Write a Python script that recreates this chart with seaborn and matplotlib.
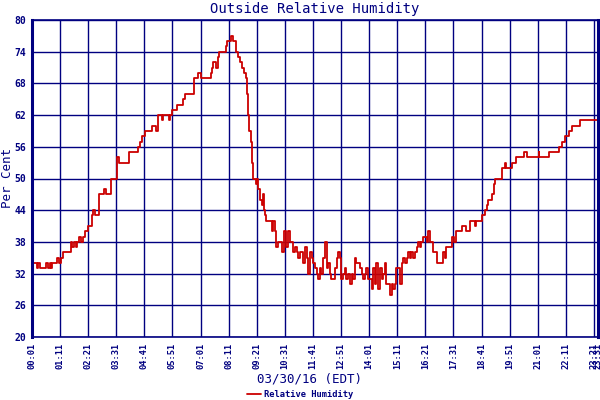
import numpy as np
import pandas as pd
import matplotlib
matplotlib.use("Agg")
import matplotlib.pyplot as plt
import seaborn as sns

# minutes after midnight, 03/30/16
minutes = [
    1, 3, 13, 17, 21, 33, 36, 42, 46, 48, 50, 61, 64, 69, 72, 79, 94, 97, 101, 106,
    110, 114, 119, 124, 127, 133, 141, 145, 150, 154, 158, 166, 169, 179, 180, 185,
    195, 199, 209, 212, 216, 218, 237, 243, 262, 266, 270, 274, 282, 297, 299, 307,
    310, 314, 324, 328, 341, 343, 346, 351, 361, 376, 378, 382, 403, 405, 411, 415,
    419, 423, 442, 446, 449, 452, 459, 465, 467, 481, 484, 488, 494, 496, 498, 502,
    506, 510, 514, 519, 523, 527, 529, 533, 536, 538, 541, 546, 548, 550, 552, 556,
    559, 562, 565, 569, 573, 577, 579, 581, 585, 594, 598, 602, 606, 610, 614, 619,
    625, 628, 633, 639, 643, 648, 652, 656, 660, 664, 668, 673, 677, 681, 685, 689,
    693, 698, 702, 706, 710, 714, 718, 722, 726, 731, 735, 739, 743, 747, 751, 756,
    760, 764, 768, 772, 776, 780, 784, 789, 793, 797, 801, 805, 809, 813, 818, 822,
    826, 830, 834, 838, 842, 847, 851, 855, 859, 863, 867, 872, 876, 880, 884, 888,
    892, 897, 901, 905, 909, 913, 917, 922, 926, 930, 934, 938, 942, 946, 950, 955,
    959, 963, 967, 971, 975, 980, 984, 988, 992, 996, 1000, 1004, 1009, 1013, 1021,
    1025, 1029, 1032, 1046, 1048, 1052, 1058, 1065, 1071, 1079, 1083, 1092, 1104,
    1107, 1117, 1121, 1130, 1134, 1138, 1142, 1146, 1152, 1155, 1160, 1167, 1173,
    1179, 1183, 1191, 1196, 1204, 1206, 1224, 1227, 1233, 1235, 1261, 1263, 1265,
    1286, 1290, 1311, 1315, 1322, 1330, 1336, 1340, 1347, 1357, 1365, 1403, 1411,
]
humidity = [
    34, 34, 33, 34, 33, 33, 34, 33, 34, 33, 34, 34, 35, 34, 35, 36, 36, 38, 37, 38,
    37, 38, 39, 38, 39, 40, 41, 41, 43, 44, 43, 43, 47, 47, 48, 47,
    47, 50, 50, 54, 54, 53, 53, 55, 55, 56, 57, 58, 59, 59, 60, 60,
    59, 62, 61, 62, 62, 61, 62, 63, 64, 64, 65, 66, 66, 69, 69, 70,
    70, 69, 69, 70, 71, 72, 71, 73, 74, 74, 75, 76, 76, 77, 77, 76,
    76, 74, 73, 72, 71, 71, 70, 69, 66, 62, 59, 57, 54, 53, 50, 50,
    49, 50, 48, 46, 45, 47, 44, 43, 42, 42, 40, 42, 40, 37, 38, 38,
    36, 40, 37, 40, 38, 38, 36, 37, 36, 35, 36, 36, 34, 37, 35, 32,
    36, 35, 34, 33, 32, 31, 33, 32, 35, 38, 33, 34, 32, 31, 31, 33,
    35, 36, 35, 31, 32, 33, 31, 32, 30, 32, 31, 35, 34, 34, 33, 32,
    31, 32, 33, 31, 31, 29, 33, 30, 34, 29, 33, 31, 32, 34, 30, 30,
    28, 30, 29, 30, 33, 33, 30, 34, 35, 34, 35, 36, 35, 36, 35, 36,
    37, 38, 37, 38, 39, 39, 38, 40, 38, 38, 36, 36, 34, 34, 34,
    36, 35, 37, 37, 39, 38, 40, 40, 41, 41, 40, 42, 41,
    42, 42, 43, 44, 45, 46, 46, 47, 49, 50, 50, 50, 52,
    53, 52, 52, 53, 53, 54, 54, 55, 55, 54, 54, 55, 54,
    54, 55, 55, 56, 57, 58, 58, 59, 60, 60, 61, 61, 62,
]

tick_minutes = list(range(1, 1402, 70)) + [1411]
tick_labels = [f"{m // 60:02d}:{m % 60:02d}" for m in tick_minutes]
y_ticks = list(range(20, 81, 6))

navy = "#000080"
red = "#cc0000"

df = pd.DataFrame({"minute": minutes, "Relative Humidity": humidity})

sns.set_style("white")
plt.rcParams["font.family"] = ["DejaVu Sans Mono", "DejaVu Sans"]

fig = plt.figure(figsize=(6, 4), dpi=100)
ax = fig.add_axes([32 / 600, 1 - 337 / 400, 566 / 600, 317 / 400])

sns.lineplot(data=df, x="minute", y="Relative Humidity", ax=ax, color=red,
             linewidth=1.3, drawstyle="steps-post", label="Relative Humidity",
             legend=False)

ax.set_xlim(1, 1411)
ax.set_ylim(20, 80)
ax.set_xticks(tick_minutes)
ax.set_xticklabels(tick_labels, rotation=90, fontsize=6.3, color=navy,
                   fontweight="bold")
ax.set_yticks(y_ticks)
ax.set_yticklabels([str(v) for v in y_ticks], fontsize=7, color=navy,
                   fontweight="bold")
ax.tick_params(axis="both", length=0, pad=4)
ax.grid(True, color=navy, linewidth=1.0)
ax.set_axisbelow(True)

for side in ["top", "bottom"]:
    ax.spines[side].set_color(navy)
    ax.spines[side].set_linewidth(1.2)
for side in ["left", "right"]:
    ax.spines[side].set_color(navy)
    ax.spines[side].set_linewidth(2.2)

ax.set_xlabel("03/30/16 (EDT)", fontsize=9, color=navy)
ax.xaxis.set_label_coords(0.49, -0.112)
ax.set_ylabel("Per Cent", fontsize=9, color=navy)
ax.yaxis.set_label_coords(-0.031, 0.5)
ax.set_title("Outside Relative Humidity", fontsize=10, color=navy, pad=5)

handles, labels = ax.get_legend_handles_labels()
fig.legend(handles, labels, loc="center", bbox_to_anchor=(0.5, 0.013),
           frameon=False, handlelength=1.6, handletextpad=0.3,
           labelcolor=navy, prop={"weight": "bold", "size": 6.3})

fig.savefig("out.png", dpi=100)
